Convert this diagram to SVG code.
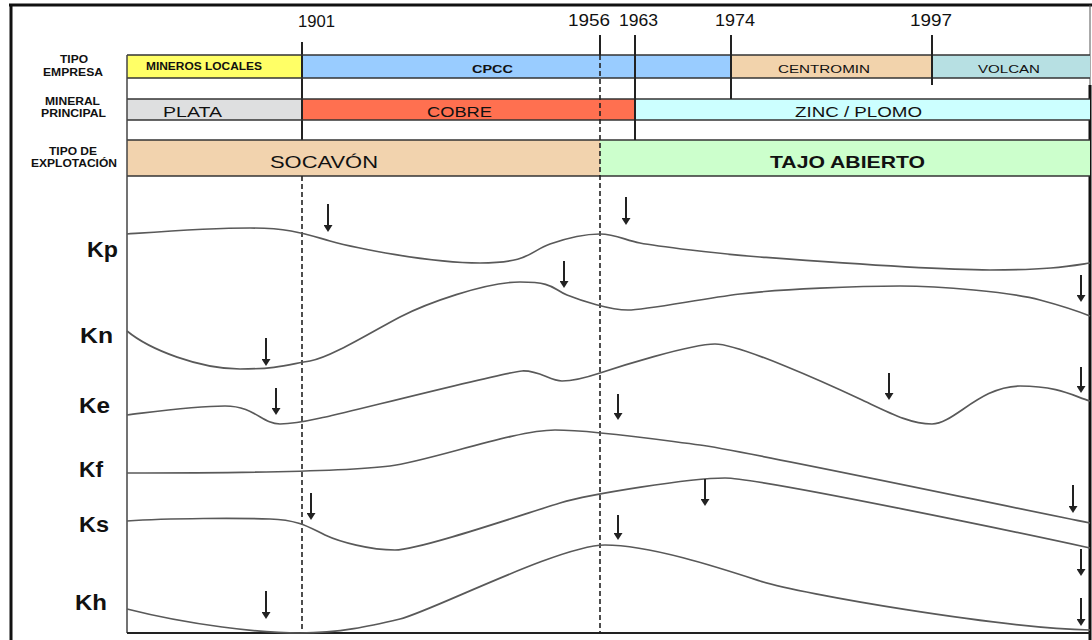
<svg xmlns="http://www.w3.org/2000/svg" width="1092" height="640" viewBox="0 0 1092 640">
<style>
text{font-family:"Liberation Sans",Arial,sans-serif;fill:#111}
.hd{font-size:11px;font-weight:bold;text-anchor:middle}
.yr{font-size:16px;text-anchor:middle}
.bt{text-anchor:middle}
.k{font-size:22px;font-weight:bold}
.curve{fill:none;stroke:#595959;stroke-width:1.7}
.arr{stroke:#222;stroke-width:2;marker-end:url(#ah)}
.hl{stroke:#333;stroke-width:1.5}
.vl{stroke:#222;stroke-width:2}
.dl{stroke:#222;stroke-width:1.6;stroke-dasharray:5,3}
</style>
<defs>
<marker id="ah" markerWidth="7" markerHeight="9" refX="4" refY="4.5" orient="auto" markerUnits="userSpaceOnUse">
<path d="M0,0 L7,4.5 L0,9 z" fill="#222"/>
</marker>
</defs>
<rect x="0" y="0" width="1092" height="640" fill="#fff"/>

<!-- frame -->
<g id="frame">
<line x1="9" y1="5" x2="1092" y2="5" stroke="#111" stroke-width="3"/>
<line x1="11" y1="5" x2="11" y2="640" stroke="#111" stroke-width="3"/>
<line x1="1090" y1="5" x2="1090" y2="85" stroke="#555" stroke-width="1"/>
<line x1="1090" y1="85" x2="1090" y2="640" stroke="#111" stroke-width="3"/>
</g>

<!-- year marker lines behind bars -->
<g id="year-lines-back">
<line class="vl" x1="302" y1="42" x2="302" y2="140"/>
</g>

<!-- bars -->
<g id="row-empresa">
<rect x="127" y="55" width="175" height="23" fill="#FFFF66"/>
<rect x="302" y="55" width="429" height="23" fill="#99CCFF"/>
<rect x="731" y="55" width="201" height="23" fill="#F2D3AC"/>
<rect x="932" y="55" width="158" height="23" fill="#B7E0E3"/>
<line class="vl" x1="302" y1="55" x2="302" y2="78"/>
<text x="204" y="70" font-size="10" font-weight="bold" class="bt" textLength="116" lengthAdjust="spacingAndGlyphs">MINEROS LOCALES</text>
<text x="492.5" y="72.5" font-size="11" font-weight="bold" class="bt" textLength="41" lengthAdjust="spacingAndGlyphs">CPCC</text>
<text x="824" y="72.5" font-size="11" class="bt" textLength="92" lengthAdjust="spacingAndGlyphs">CENTROMIN</text>
<text x="1009" y="72.5" font-size="11" class="bt" textLength="62" lengthAdjust="spacingAndGlyphs">VOLCAN</text>
</g>
<g id="row-mineral">
<rect x="127" y="99" width="175" height="21" fill="#DEDFE0"/>
<rect x="302" y="99" width="333" height="21" fill="#FF7050"/>
<rect x="635" y="99" width="455" height="21" fill="#CCFFFF"/>
<line class="vl" x1="302" y1="99" x2="302" y2="120"/>
<text x="192.5" y="117" font-size="15" class="bt" textLength="59" lengthAdjust="spacingAndGlyphs">PLATA</text>
<text x="459.5" y="117" font-size="15" class="bt" textLength="65" lengthAdjust="spacingAndGlyphs">COBRE</text>
<text x="858.5" y="117" font-size="15" class="bt" textLength="127" lengthAdjust="spacingAndGlyphs">ZINC / PLOMO</text>
</g>
<g id="row-explotacion">
<rect x="127" y="140" width="473" height="36" fill="#F2D3AE"/>
<rect x="600" y="140" width="490" height="36" fill="#CCFFCC"/>
<text x="324" y="168" font-size="17" class="bt" textLength="108" lengthAdjust="spacingAndGlyphs">SOCAVÓN</text>
<text x="847.5" y="168" font-size="17" font-weight="bold" class="bt" textLength="155" lengthAdjust="spacingAndGlyphs">TAJO ABIERTO</text>
</g>

<g id="gridlines">
<line class="hl" x1="127" y1="55" x2="1090" y2="55"/>
<line class="hl" x1="127" y1="78" x2="1090" y2="78"/>
<line class="hl" x1="127" y1="99" x2="1090" y2="99"/>
<line class="hl" x1="127" y1="120" x2="1090" y2="120"/>
<line class="hl" x1="127" y1="140" x2="1090" y2="140"/>
<line class="hl" x1="127" y1="176" x2="1090" y2="176"/>
<line x1="127" y1="55" x2="127" y2="633" stroke="#444" stroke-width="1.5"/>
<line x1="127" y1="633" x2="1090" y2="633" stroke="#222" stroke-width="2.2"/>
</g>

<!-- year markers -->
<g id="years">
<line class="dl" x1="302" y1="176" x2="302" y2="633"/>
<line class="vl" x1="600" y1="35" x2="600" y2="55"/>
<line class="dl" x1="600" y1="55" x2="600" y2="633"/>
<line class="vl" x1="635" y1="35" x2="635" y2="140"/>
<line class="vl" x1="731" y1="35" x2="731" y2="99"/>
<line class="vl" x1="932" y1="35" x2="932" y2="85"/>
<text class="yr" x="316.5" y="27" textLength="37" lengthAdjust="spacingAndGlyphs">1901</text>
<text class="yr" x="589" y="26" textLength="42" lengthAdjust="spacingAndGlyphs">1956</text>
<text class="yr" x="638.5" y="26" textLength="39" lengthAdjust="spacingAndGlyphs">1963</text>
<text class="yr" x="735" y="26" textLength="40" lengthAdjust="spacingAndGlyphs">1974</text>
<text class="yr" x="931" y="26" textLength="42" lengthAdjust="spacingAndGlyphs">1997</text>
</g>

<!-- row headers -->
<g id="headers">
<text class="hd" x="74" y="63" textLength="28" lengthAdjust="spacingAndGlyphs">TIPO</text>
<text class="hd" x="73" y="76" textLength="60" lengthAdjust="spacingAndGlyphs">EMPRESA</text>
<text class="hd" x="72.5" y="105" textLength="55" lengthAdjust="spacingAndGlyphs">MINERAL</text>
<text class="hd" x="73.5" y="117" textLength="65" lengthAdjust="spacingAndGlyphs">PRINCIPAL</text>
<text class="hd" x="73" y="155" textLength="48" lengthAdjust="spacingAndGlyphs">TIPO DE</text>
<text class="hd" x="74" y="167" textLength="86" lengthAdjust="spacingAndGlyphs">EXPLOTACIÓN</text>
</g>

<!-- curve labels -->
<g id="klabels">
<text class="k" x="87" y="257" textLength="31" lengthAdjust="spacingAndGlyphs">Kp</text>
<text class="k" x="80" y="343" textLength="33" lengthAdjust="spacingAndGlyphs">Kn</text>
<text class="k" x="79" y="413" textLength="31" lengthAdjust="spacingAndGlyphs">Ke</text>
<text class="k" x="79" y="477" textLength="24" lengthAdjust="spacingAndGlyphs">Kf</text>
<text class="k" x="79" y="532" textLength="30" lengthAdjust="spacingAndGlyphs">Ks</text>
<text class="k" x="75" y="610" textLength="32" lengthAdjust="spacingAndGlyphs">Kh</text>
</g>

<!-- curves -->
<g id="curves">
<path id="Kp" class="curve" d="M127,234 C170,231 210,228 250,228 S305,234 330,241 S430,263 480,263 S530,251 550,244 S585,234 600,234 S625,240 640,243 S720,254 760,257 S930,270 990,270 S1070,266 1090,263"/>
<path id="Kn" class="curve" d="M127,331 C150,350 200,369 240,369 S290,364 310,361 S375,330 400,317 S485,282 520,282 S552,289 567,295 S610,310 628,310 S700,299 740,294 S860,286 900,286 S1010,292 1040,300 S1080,312 1090,316"/>
<path id="Ke" class="curve" d="M127,415 C160,411 195,406 225,406 S262,424 280,424 S315,419 330,416 S505,372 522,371 S550,381 562,381 S585,378 600,373 S690,344 715,344 S830,385 860,399 S910,424 932,424 S980,386 1020,386 S1075,397 1090,401"/>
<path id="Kf" class="curve" d="M127,473 C250,473 350,471 390,466 S515,430 555,430 S660,440 700,445 S1000,505 1090,523"/>
<path id="Ks" class="curve" d="M127,521 C170,518 240,518 270,519 S310,528 325,535 S370,550 395,550 S530,512 560,503 S690,478 725,478 S1040,537 1090,548"/>
<path id="Kh" class="curve" d="M127,609 C190,625 260,633 300,633 S370,626 400,619 S560,545 605,545 S720,568 760,581 S1000,628 1090,630"/>
</g>

<!-- arrows -->
<g id="arrows">
<line class="arr" x1="328" y1="204" x2="328" y2="229"/>
<line class="arr" x1="626" y1="197" x2="626" y2="222"/>
<line class="arr" x1="564" y1="261" x2="564" y2="285"/>
<line class="arr" x1="1081" y1="275" x2="1081" y2="299"/>
<line class="arr" x1="266" y1="338" x2="266" y2="363"/>
<line class="arr" x1="276" y1="388" x2="276" y2="412"/>
<line class="arr" x1="618" y1="394" x2="618" y2="417"/>
<line class="arr" x1="889" y1="373" x2="889" y2="397"/>
<line class="arr" x1="1081" y1="367" x2="1081" y2="390"/>
<line class="arr" x1="311" y1="493" x2="311" y2="517"/>
<line class="arr" x1="705" y1="479" x2="705" y2="503"/>
<line class="arr" x1="1073" y1="485" x2="1073" y2="510"/>
<line class="arr" x1="618" y1="515" x2="618" y2="537"/>
<line class="arr" x1="1081" y1="549" x2="1081" y2="573"/>
<line class="arr" x1="266" y1="591" x2="266" y2="616"/>
<line class="arr" x1="1081" y1="598" x2="1081" y2="623"/>
</g>
</svg>
